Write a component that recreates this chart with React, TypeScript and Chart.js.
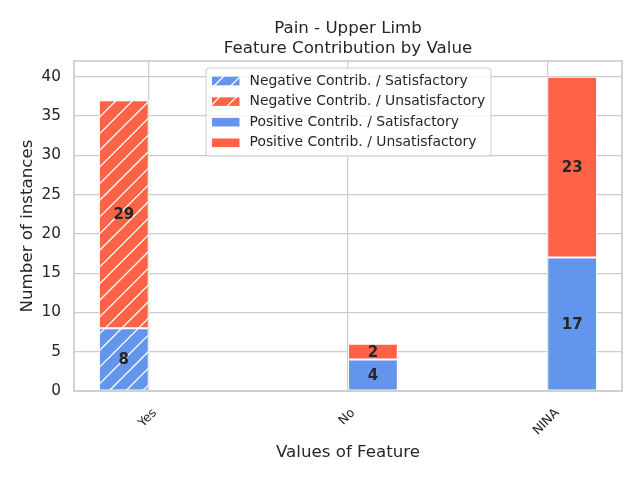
import React, { useEffect, useRef } from 'react';
import { Chart, registerables } from 'chart.js';

Chart.register(...registerables);

const categories = ['Yes', 'No', 'NINA'];
const negSatisfactory = [8, 0, 0];
const negUnsatisfactory = [29, 0, 0];
const posSatisfactory = [0, 4, 17];
const posUnsatisfactory = [0, 2, 23];
const yTickValues = [0, 5, 10, 15, 20, 25, 30, 35, 40];
const seriesLabels = [
  'Negative Contrib. / Satisfactory',
  'Negative Contrib. / Unsatisfactory',
  'Positive Contrib. / Satisfactory',
  'Positive Contrib. / Unsatisfactory',
];
const titleLines = ['Pain - Upper Limb', 'Feature Contribution by Value'];
const xAxisTitle = 'Values of Feature';
const yAxisTitle = 'Number of instances';

const BLUE = '#6495ED';
const RED = '#FF6347';
const TEXT = '#262626';
const GRID = '#cccccc';
const FONT = "'DejaVu Sans', sans-serif";

function makeHatch(color: string): CanvasPattern | string {
  const T = 50;
  const c = document.createElement('canvas');
  c.width = T;
  c.height = T;
  const g = c.getContext('2d');
  if (!g) return color;
  g.fillStyle = color;
  g.fillRect(0, 0, T, T);
  g.strokeStyle = '#ffffff';
  g.lineWidth = 1.3;
  const s = T / 3;
  for (let k = -3; k <= 9; k++) {
    const cc = k * s;
    g.beginPath();
    g.moveTo(cc + 20, -20);
    g.lineTo(cc - 80, 80);
    g.stroke();
  }
  const p = g.createPattern(c, 'repeat');
  return p || color;
}

export default function App() {
  const ref = useRef<HTMLCanvasElement | null>(null);

  useEffect(() => {
    document.body.style.margin = '0';
    const canvas = ref.current;
    if (!canvas) return;

    const blueHatch = makeHatch(BLUE);
    const redHatch = makeHatch(RED);
    const fills = [blueHatch, redHatch, BLUE, RED];
    const seriesValues = [negSatisfactory, negUnsatisfactory, posSatisfactory, posUnsatisfactory];
    const stacks = ['neg', 'neg', 'pos', 'pos'];

    const datasets = seriesValues.map((vals, si) => ({
      label: seriesLabels[si],
      data: categories.map((_, i) => ({ x: i, y: vals[i] === 0 ? null : vals[i] })),
      backgroundColor: fills[si] as any,
      borderColor: '#ffffff',
      borderWidth: 1,
      borderSkipped: false,
      stack: stacks[si],
      categoryPercentage: 0.5,
      barPercentage: 1.0,
    }));

    const decor = {
      id: 'decor',
      afterDatasetsDraw(chart: any) {
        const ctx: CanvasRenderingContext2D = chart.ctx;
        const ca = chart.chartArea;
        ctx.save();
        // bar value labels
        ctx.font = `bold 15px ${FONT}`;
        ctx.fillStyle = TEXT;
        ctx.textAlign = 'center';
        ctx.textBaseline = 'middle';
        chart.data.datasets.forEach((ds: any, di: number) => {
          const meta = chart.getDatasetMeta(di);
          meta.data.forEach((el: any, i: number) => {
            const v = seriesValues[di][i];
            if (!v) return;
            const p = el.getProps(['x', 'y', 'base'], true);
            ctx.fillText(String(v), p.x, (p.y + p.base) / 2 + 1);
          });
        });
        // axes frame
        ctx.strokeStyle = GRID;
        ctx.lineWidth = 1.7;
        ctx.strokeRect(ca.left, ca.top, ca.right - ca.left, ca.bottom - ca.top);

        // legend
        const lx = 206, ly = 68, lw = 285, lh = 88, r = 3;
        ctx.beginPath();
        ctx.moveTo(lx + r, ly);
        ctx.lineTo(lx + lw - r, ly);
        ctx.quadraticCurveTo(lx + lw, ly, lx + lw, ly + r);
        ctx.lineTo(lx + lw, ly + lh - r);
        ctx.quadraticCurveTo(lx + lw, ly + lh, lx + lw - r, ly + lh);
        ctx.lineTo(lx + r, ly + lh);
        ctx.quadraticCurveTo(lx, ly + lh, lx, ly + lh - r);
        ctx.lineTo(lx, ly + r);
        ctx.quadraticCurveTo(lx, ly, lx + r, ly);
        ctx.closePath();
        ctx.fillStyle = 'rgba(255,255,255,0.8)';
        ctx.fill();
        ctx.strokeStyle = GRID;
        ctx.lineWidth = 1;
        ctx.stroke();
        ctx.font = `13.9px ${FONT}`;
        ctx.textAlign = 'left';
        ctx.textBaseline = 'middle';
        seriesLabels.forEach((lab, i) => {
          const cy = 81 + i * 20.6;
          ctx.fillStyle = fills[i] as any;
          ctx.fillRect(212, cy - 4.3, 27.5, 8.6);
          ctx.fillStyle = TEXT;
          ctx.fillText(lab, 249.5, cy);
        });
        ctx.restore();
      },
      afterDraw(chart: any) {
        const ctx: CanvasRenderingContext2D = chart.ctx;
        const ca = chart.chartArea;
        const cx = (ca.left + ca.right) / 2;
        ctx.save();
        ctx.fillStyle = TEXT;
        // title
        ctx.font = `16.67px ${FONT}`;
        ctx.textAlign = 'center';
        ctx.textBaseline = 'alphabetic';
        ctx.fillText(titleLines[0], cx, 33);
        ctx.fillText(titleLines[1], cx, 53);
        // x axis title
        ctx.fillText(xAxisTitle, cx, 457);
        // y axis title
        ctx.save();
        ctx.translate(31.5, (ca.top + ca.bottom) / 2);
        ctx.rotate(-Math.PI / 2);
        ctx.fillText(yAxisTitle, 0, 0);
        ctx.restore();
        // x tick labels rotated 45
        const xs = chart.scales.x;
        ctx.font = `12.5px ${FONT}`;
        ctx.textAlign = 'center';
        ctx.textBaseline = 'middle';
        categories.forEach((lab, i) => {
          const px = xs.getPixelForValue(i);
          const w = ctx.measureText(lab).width;
          ctx.save();
          ctx.translate(px - 1, 411 + 0.354 * w);
          ctx.rotate(-Math.PI / 4);
          ctx.fillText(lab, 0, 0);
          ctx.restore();
        });
        ctx.restore();
      },
    };

    const chart = new Chart(canvas, {
      type: 'bar',
      data: { datasets: datasets as any },
      options: {
        responsive: false,
        animation: false,
        layout: { padding: { top: 61, right: 18, left: 0, bottom: 0 } },
        plugins: {
          legend: { display: false },
          title: { display: false },
          tooltip: { enabled: false },
        },
        scales: {
          x: {
            type: 'linear',
            min: -0.375,
            max: 2.375,
            stacked: true,
            offset: false,
            grid: { color: GRID, lineWidth: 1.2, drawTicks: false, offset: false },
            border: { display: false },
            ticks: { display: false },
            afterBuildTicks: (scale: any) => {
              scale.ticks = categories.map((_, i) => ({ value: i }));
            },
            afterFit: (scale: any) => {
              scale.height = 89;
            },
          },
          y: {
            type: 'linear',
            min: 0,
            max: 42,
            stacked: true,
            grid: { color: GRID, lineWidth: 1.2, drawTicks: false },
            border: { display: false },
            ticks: {
              color: TEXT,
              font: { family: FONT, size: 15.28 },
              padding: 13,
            },
            afterBuildTicks: (scale: any) => {
              scale.ticks = yTickValues.map((v) => ({ value: v }));
            },
            afterFit: (scale: any) => {
              scale.width = 74;
            },
          },
        },
      },
      plugins: [decor],
    });

    return () => chart.destroy();
  }, []);

  return (
    <div style={{ width: 640, height: 480 }}>
      <canvas ref={ref} width={640} height={480} />
    </div>
  );
}
